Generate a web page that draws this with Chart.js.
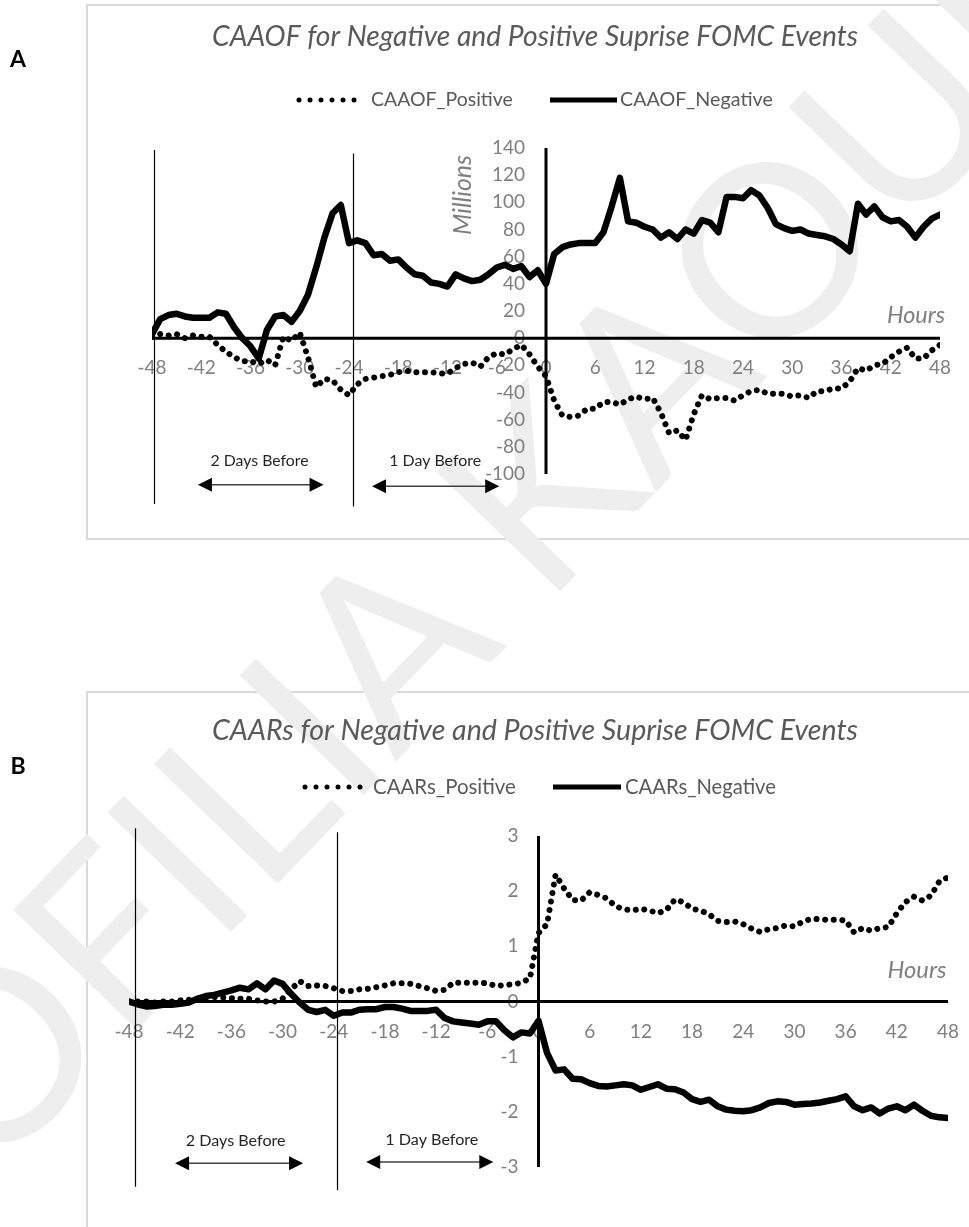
<!DOCTYPE html>
<html>
<head>
<meta charset="utf-8">
<script src="https://cdn.jsdelivr.net/npm/chart.js@4.4.1/dist/chart.umd.min.js"></script>
<style>
  html, body { margin: 0; padding: 0; background: #fff; overflow: hidden; }
  body { width: 969px; height: 1227px; position: relative; }
  .box { position: absolute; border: 2px solid #d9d9d9; }
  #boxA { left: 86px; top: 4px; width: 920px; height: 532px; }
  #boxB { left: 86px; top: 691px; width: 920px; height: 700px; }
  #wm { position: absolute; left: 490px; top: 530px; transform: translate(-50%, -50%) rotate(-46deg);
        font: 240px Lato, sans-serif; color: #eeeeee; white-space: nowrap; }
  canvas { position: absolute; left: 0; }
  #chartA { top: 0; }
  #chartB { top: 560px; }
</style>
</head>
<body>
<div class="box" id="boxA"></div>
<div class="box" id="boxB"></div>
<div id="wm">OFILIA KAOUR</div>
<canvas id="chartA" width="969" height="560"></canvas>
<canvas id="chartB" width="969" height="667"></canvas>
<script>
// hours around the FOMC announcement
const hours = [-48,-47,-46,-45,-44,-43,-42,-41,-40,-39,-38,-37,-36,-35,-34,-33,-32,-31,-30,-29,
  -28,-27,-26,-25,-24,-23,-22,-21,-20,-19,-18,-17,-16,-15,-14,-13,-12,-11,-10,-9,
  -8,-7,-6,-5,-4,-3,-2,-1,0,1,2,3,4,5,6,7,8,9,10,11,12,13,14,15,16,17,18,19,20,
  21,22,23,24,25,26,27,28,29,30,31,32,33,34,35,36,37,38,39,40,41,42,43,44,45,46,47,48];
const hourTicks = [-48,-42,-36,-30,-24,-18,-12,-6,0,6,12,18,24,30,36,42,48];

// panel A : CAAOF (millions)
const caaofPositive = [1,3,2,3,0,2,1,1,-5,-10,-14,-17,-17,-19,-16,-20,1,-2,4,-14,
  -36,-30,-31,-38,-42,-34,-30,-29,-28,-27,-25,-24,-25,-25,-25,-26,-26,-22,-19,-18,
  -21,-14,-11,-12,-8,-5,-12,-21,-28,-46,-57,-58,-57,-52,-52,-47,-47,-49,-45,-43,
  -45,-44,-55,-70,-68,-75,-56,-42,-45,-44,-44,-46,-42,-39,-38,-41,-41,-41,-43,-42,
  -44,-39,-39,-37,-37,-32,-22,-24,-20,-19,-14,-10,-7,-15,-15,-9,-5];
const caaofNegative = [3,14,17,18,16,15,15,15,19,18,8,0,-6,-15,6,16,17,12,20,32,
  52,74,92,98,70,72,70,61,62,57,58,52,47,46,41,40,38,47,44,42,
  43,47,52,54,51,53,45,50,40,62,67,69,70,70,70,78,97,118,86,85,
  82,80,74,78,73,80,77,87,85,78,104,104,103,109,105,96,84,81,79,80,
  77,76,75,73,69,64,99,91,97,89,86,87,82,74,82,88,91];
const caaofTicks = [-100,-80,-60,-40,-20,0,20,40,60,80,100,120,140];

// panel B : CAARs
const caarsPositive = [0,0,0,-0.02,0,0,0.02,0.03,0.05,0.07,0.08,0.07,0.06,0.05,0.05,0.02,0,0,0.05,0.22,
  0.37,0.28,0.29,0.28,0.24,0.19,0.19,0.22,0.23,0.26,0.29,0.33,0.33,0.32,0.28,0.24,0.19,0.21,0.34,0.34,
  0.34,0.34,0.33,0.28,0.3,0.31,0.34,0.42,1.24,1.4,2.3,2.05,1.84,1.83,1.98,1.93,1.87,1.73,1.67,1.65,
  1.68,1.65,1.6,1.66,1.85,1.8,1.68,1.65,1.58,1.46,1.44,1.45,1.4,1.32,1.26,1.31,1.33,1.38,1.36,1.45,
  1.5,1.49,1.48,1.48,1.47,1.25,1.33,1.28,1.33,1.35,1.6,1.8,1.9,1.83,1.92,2.18,2.25];
const caarsNegative = [0,-0.05,-0.09,-0.08,-0.06,-0.06,-0.04,-0.02,0.05,0.1,0.12,0.16,0.2,0.25,0.22,0.33,0.22,0.38,0.32,0.14,
  -0.02,-0.15,-0.19,-0.15,-0.26,-0.2,-0.2,-0.15,-0.14,-0.14,-0.1,-0.1,-0.13,-0.17,-0.17,-0.17,-0.15,-0.3,-0.36,-0.38,
  -0.4,-0.42,-0.36,-0.36,-0.52,-0.65,-0.56,-0.58,-0.35,-0.93,-1.25,-1.23,-1.4,-1.41,-1.48,-1.53,-1.54,-1.52,-1.5,-1.52,
  -1.6,-1.55,-1.5,-1.58,-1.59,-1.65,-1.77,-1.82,-1.78,-1.9,-1.96,-1.98,-1.99,-1.97,-1.92,-1.84,-1.81,-1.82,-1.87,-1.86,
  -1.85,-1.83,-1.8,-1.77,-1.72,-1.9,-1.97,-1.92,-2.03,-1.94,-1.9,-1.97,-1.87,-1.98,-2.07,-2.1,-2.11];
const caarsTicks = [-3,-2,-1,0,1,2,3];

const GREY = '#7f7f7f';
const TEXT = '#595959';

function toPoints(vals) {
  return hours.map((h, i) => ({ x: h, y: vals[i] }));
}

// font size so that text fills the given width
function fit(c, text, width, style) {
  c.font = style + ' 100px Lato';
  const s = 100 * width / c.measureText(text).width;
  c.font = style + ' ' + s.toFixed(2) + 'px Lato';
}

function arrowHead(c, x, y, dir) {
  c.beginPath();
  c.moveTo(x, y);
  c.lineTo(x - dir * 14, y - 7);
  c.lineTo(x - dir * 14, y + 7);
  c.closePath();
  c.fill();
}

function decor(cfg) {
  return {
    id: 'decor',
    beforeDatasetsDraw(chart) {
      const c = chart.ctx, sx = chart.scales.x, sy = chart.scales.y;
      const x0 = sx.getPixelForValue(0), y0 = sy.getPixelForValue(0);
      c.save();

      // tick labels
      c.fillStyle = GREY;
      c.font = '19px Lato';
      c.textBaseline = 'middle';
      c.textAlign = 'center';
      hourTicks.forEach(h => c.fillText(String(h), sx.getPixelForValue(h), y0 + 30));
      c.textAlign = 'right';
      cfg.yTicks.forEach(v => c.fillText(String(v), x0 - cfg.yGap, sy.getPixelForValue(v)));

      // axis titles
      c.textAlign = 'center';
      if (cfg.yTitle) {
        c.save();
        c.translate(cfg.yTitle.x, cfg.yTitle.y);
        c.rotate(-Math.PI / 2);
        fit(c, cfg.yTitle.text, cfg.yTitle.w, 'italic');
        c.fillText(cfg.yTitle.text, 0, 0);
        c.restore();
      }
      fit(c, 'Hours', cfg.xTitle.w, 'italic');
      c.fillText('Hours', cfg.xTitle.x, cfg.xTitle.y);

      // day windows
      c.strokeStyle = '#000';
      c.lineWidth = 1.2;
      cfg.windows.forEach(w => {
        const px = Math.round(sx.getPixelForValue(w.h)) + 0.5;
        c.beginPath();
        c.moveTo(px, sy.getPixelForValue(w.top));
        c.lineTo(px, sy.getPixelForValue(w.bottom));
        c.stroke();
      });

      // arrows and their notes
      cfg.arrows.forEach(a => {
        const xa = sx.getPixelForValue(a.from), xb = sx.getPixelForValue(a.to), ya = sy.getPixelForValue(a.v);
        c.strokeStyle = '#404040';
        c.lineWidth = 1.5;
        c.beginPath();
        c.moveTo(xa + 10, ya);
        c.lineTo(xb - 10, ya);
        c.stroke();
        c.fillStyle = '#000';
        arrowHead(c, xa, ya, -1);
        arrowHead(c, xb, ya, 1);
      });
      c.fillStyle = '#262626';
      cfg.notes.forEach(n => {
        fit(c, n.text, n.w, '');
        c.fillText(n.text, sx.getPixelForValue(n.h), sy.getPixelForValue(n.v));
      });

      // axes crossing at zero
      c.strokeStyle = '#000';
      c.lineWidth = 3;
      c.beginPath();
      c.moveTo(sx.getPixelForValue(-48), y0);
      c.lineTo(sx.getPixelForValue(48), y0);
      c.moveTo(x0, sy.getPixelForValue(cfg.yMax));
      c.lineTo(x0, sy.getPixelForValue(cfg.yMin));
      c.stroke();
      c.restore();
    },
    afterDraw(chart) {
      const c = chart.ctx;
      c.save();
      c.textBaseline = 'middle';

      // panel letter
      c.fillStyle = '#000';
      c.textAlign = 'center';
      c.font = 'bold 23px Lato';
      c.fillText(cfg.letter, 18, cfg.letterY);

      // title
      c.fillStyle = TEXT;
      fit(c, cfg.title, 646, 'italic');
      c.fillText(cfg.title, 535, cfg.titleY);

      // legend
      const L = cfg.legend;
      c.fillStyle = '#000';
      for (let i = 0; i < 6; i++) {
        c.beginPath();
        c.arc(L.dotX + i * 11, L.y, 2.5, 0, Math.PI * 2);
        c.fill();
      }
      c.strokeStyle = '#000';
      c.lineWidth = 5;
      c.beginPath();
      c.moveTo(L.lineX1, L.y);
      c.lineTo(L.lineX2, L.y);
      c.stroke();
      c.fillStyle = TEXT;
      c.textAlign = 'left';
      fit(c, cfg.posName, L.posW, '');
      c.fillText(cfg.posName, L.posX, L.y);
      fit(c, cfg.negName, L.negW, '');
      c.fillText(cfg.negName, L.negX, L.y);
      c.restore();
    }
  };
}

function panel(id, cfg) {
  return new Chart(document.getElementById(id).getContext('2d'), {
    type: 'line',
    data: {
      datasets: [
        {
          label: cfg.negName,
          data: toPoints(cfg.neg),
          borderColor: '#000',
          borderWidth: 6.5,
          borderJoinStyle: 'round',
          borderCapStyle: 'round',
          pointRadius: 0,
          tension: 0,
          order: 0
        },
        {
          label: cfg.posName,
          data: toPoints(cfg.pos),
          borderColor: '#000',
          borderWidth: 6,
          borderDash: [0.01, 8.6],
          borderCapStyle: 'round',
          pointRadius: 0,
          tension: 0,
          order: 1
        }
      ]
    },
    options: {
      responsive: false,
      animation: false,
      devicePixelRatio: 1,
      layout: { padding: cfg.padding },
      plugins: {
        legend: { display: false },
        title: { display: false },
        tooltip: { enabled: false }
      },
      scales: {
        x: { type: 'linear', min: -48, max: 48, display: false },
        y: { min: cfg.yMin, max: cfg.yMax, display: false }
      }
    },
    plugins: [decor(cfg)]
  });
}

panel('chartA', {
  letter: 'A', letterY: 60,
  title: 'CAAOF for Negative and Positive Suprise FOMC Events', titleY: 37,
  posName: 'CAAOF_Positive', negName: 'CAAOF_Negative',
  legend: { y: 100, dotX: 299, posX: 371, posW: 142, lineX1: 550, lineX2: 617, negX: 620, negW: 153 },
  pos: caaofPositive, neg: caaofNegative,
  yMin: -100, yMax: 140, yTicks: caaofTicks, yGap: 21,
  padding: { left: 152, right: 29, top: 148, bottom: 86 },
  yTitle: { text: 'Millions', x: 463, y: 195, w: 80 },
  xTitle: { x: 916, y: 315, w: 58 },
  windows: [{ h: -47.75, top: 138.5, bottom: -122 }, { h: -23.55, top: 136, bottom: -124 }],
  arrows: [{ from: -42.4, to: -27.1, v: -108 }, { from: -21.2, to: -5.7, v: -109 }],
  notes: [{ text: '2 Days Before', h: -34.9, v: -90.5, w: 98 }, { text: '1 Day Before', h: -13.5, v: -90.5, w: 92 }]
});

panel('chartB', {
  letter: 'B', letterY: 207,
  title: 'CAARs for Negative and Positive Suprise FOMC Events', titleY: 171,
  posName: 'CAARs_Positive', negName: 'CAARs_Negative',
  legend: { y: 227, dotX: 305, posX: 373, posW: 143, lineX1: 553, lineX2: 621, negX: 625, negW: 151 },
  pos: caarsPositive, neg: caarsNegative,
  yMin: -3, yMax: 3, yTicks: caarsTicks, yGap: 20,
  padding: { left: 129, right: 21, top: 276, bottom: 60 },
  yTitle: null,
  xTitle: { x: 917, y: 410, w: 59 },
  windows: [{ h: -47.3, top: 3.14, bottom: -3.36 }, { h: -23.6, top: 3.07, bottom: -3.42 }],
  arrows: [{ from: -42.6, to: -27.6, v: -2.93 }, { from: -20.2, to: -5.3, v: -2.91 }],
  notes: [{ text: '2 Days Before', h: -35.5, v: -2.53, w: 100 }, { text: '1 Day Before', h: -12.5, v: -2.51, w: 93 }]
});
</script>
</body>
</html>
